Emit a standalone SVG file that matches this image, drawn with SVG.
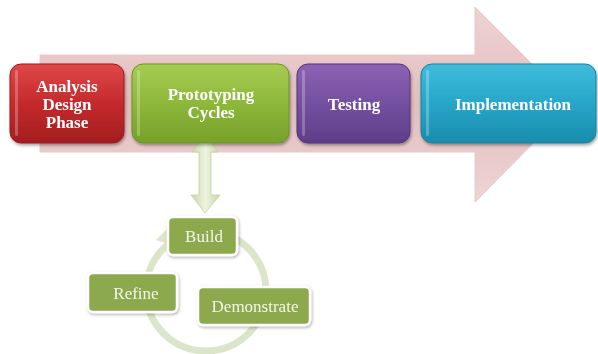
<svg xmlns="http://www.w3.org/2000/svg" width="598" height="354" viewBox="0 0 598 354">
<defs>
<linearGradient id="gPink" x1="0" y1="0" x2="0" y2="1">
<stop offset="0" stop-color="#efd3d3"/><stop offset="0.5" stop-color="#e2bebe"/><stop offset="1" stop-color="#eed5d5"/>
</linearGradient>
<linearGradient id="gRed" x1="0" y1="0" x2="0" y2="1">
<stop offset="0" stop-color="#e04848"/><stop offset="0.5" stop-color="#c42a2c"/><stop offset="1" stop-color="#a31e20"/>
</linearGradient>
<linearGradient id="gGreen" x1="0" y1="0" x2="0" y2="1">
<stop offset="0" stop-color="#a6cc52"/><stop offset="0.5" stop-color="#8db83a"/><stop offset="1" stop-color="#76a02a"/>
</linearGradient>
<linearGradient id="gPurple" x1="0" y1="0" x2="0" y2="1">
<stop offset="0" stop-color="#8d62b4"/><stop offset="0.5" stop-color="#7450a0"/><stop offset="1" stop-color="#5f3d88"/>
</linearGradient>
<linearGradient id="gTeal" x1="0" y1="0" x2="0" y2="1">
<stop offset="0" stop-color="#3fbcdc"/><stop offset="0.5" stop-color="#27a6c8"/><stop offset="1" stop-color="#1b8cad"/>
</linearGradient>
<linearGradient id="gArrow" x1="0" y1="0" x2="1" y2="0">
<stop offset="0" stop-color="#c6d6a4"/><stop offset="0.5" stop-color="#eef4e0"/><stop offset="1" stop-color="#c6d6a4"/>
</linearGradient>
<filter id="sh" x="-10%" y="-10%" width="125%" height="130%">
<feDropShadow dx="1" dy="2" stdDeviation="1.5" flood-color="#000" flood-opacity="0.35"/>
</filter>
<filter id="sh2" x="-10%" y="-10%" width="125%" height="130%">
<feDropShadow dx="1" dy="1.5" stdDeviation="1.5" flood-color="#000" flood-opacity="0.3"/>
</filter>
</defs>
<style>
.main{font-family:"Liberation Serif","Times New Roman",serif;font-weight:bold;font-size:17px;fill:#fff;text-anchor:middle}
.cyc{font-family:"Liberation Serif","Times New Roman",serif;font-size:17px;fill:#f3f7e6;text-anchor:middle}
.cbox{fill:#8caa4e;stroke:#fff;stroke-width:2.5}
.hl{fill:#fff;opacity:0.25}
</style>
<path d="M40,55 H475 V7 L572,104 L475,202 V152 H40 Z" fill="url(#gPink)" stroke="#e6caca" stroke-width="1"/>
<g id="connectors">
<path d="M205,135 L218,152 L211,152 L211,195 L220,195 L205,213 L191,195 L199,195 L199,152 L192,152 Z" fill="url(#gArrow)" stroke="#c3d3a0" stroke-width="0.8"/>
<circle cx="206" cy="291" r="60" fill="none" stroke="#dbe5c9" stroke-width="7"/>
<path d="M156,240 L170,226 L172,245 Z" fill="#dbe5c9"/>
</g>
<g id="analysis" filter="url(#sh)">
<rect x="10" y="64" width="114" height="79" rx="11" fill="url(#gRed)" stroke="#9c1c1e" stroke-width="1"/>
<rect x="15" y="70" width="3" height="66" rx="1.5" class="hl"/>
<text class="main" x="67" y="92">Analysis</text>
<text class="main" x="67" y="110">Design</text>
<text class="main" x="67" y="128">Phase</text>
</g>
<g id="prototyping" filter="url(#sh)">
<rect x="132" y="64" width="157" height="79" rx="11" fill="url(#gGreen)" stroke="#6c9424" stroke-width="1"/>
<rect x="137" y="70" width="3" height="66" rx="1.5" class="hl"/>
<text class="main" x="211" y="100">Prototyping</text>
<text class="main" x="211" y="118">Cycles</text>
</g>
<g id="testing" filter="url(#sh)">
<rect x="297" y="64" width="113" height="79" rx="11" fill="url(#gPurple)" stroke="#553380" stroke-width="1"/>
<rect x="302" y="70" width="3" height="66" rx="1.5" class="hl"/>
<text class="main" x="354" y="110">Testing</text>
</g>
<g id="implementation" filter="url(#sh)">
<rect x="421" y="64" width="175" height="79" rx="11" fill="url(#gTeal)" stroke="#17809e" stroke-width="1"/>
<rect x="426" y="70" width="3" height="66" rx="1.5" class="hl"/>
<text class="main" x="513" y="110">Implementation</text>
</g>
<g id="build" filter="url(#sh2)">
<rect class="cbox" x="168" y="217" width="69" height="38" rx="5"/>
<text class="cyc" x="204" y="242">Build</text>
</g>
<g id="refine" filter="url(#sh2)">
<rect class="cbox" x="88" y="273" width="89" height="39" rx="5"/>
<text class="cyc" x="136" y="299">Refine</text>
</g>
<g id="demonstrate" filter="url(#sh2)">
<rect class="cbox" x="198" y="287" width="112" height="38" rx="5"/>
<text class="cyc" x="255" y="312">Demonstrate</text>
</g>
</svg>
